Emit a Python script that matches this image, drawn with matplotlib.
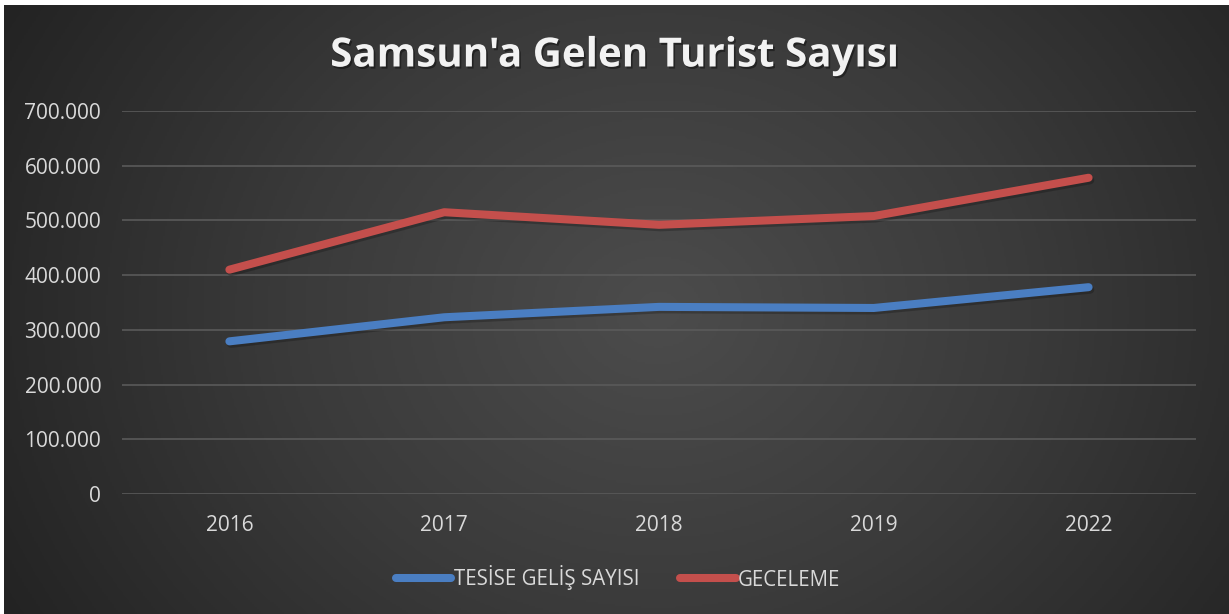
import numpy as np
import matplotlib
matplotlib.use("Agg")
import matplotlib.pyplot as plt
from matplotlib.ticker import FuncFormatter, MultipleLocator
import matplotlib.patheffects as pe
from matplotlib.colors import LinearSegmentedColormap

years = ["2016", "2017", "2018", "2019", "2022"]
tesise = [279000, 323000, 342000, 340000, 378000]
geceleme = [410000, 515000, 492000, 508000, 578000]
title = "Samsun'a Gelen Turist Sayısı"
series_names = ["TESİSE GELİŞ SAYISI", "GECELEME"]

W, H = 1229, 614
fig = plt.figure(figsize=(W / 100, H / 100), dpi=100, facecolor="white")

# background gradient
bg = fig.add_axes([4 / W, 0, 1 - 4 / W, 1 - 5 / H], zorder=-10)
yy, xx = np.mgrid[0:300, 0:600]
cx, cy = 320, 150
d = np.sqrt(((xx - cx) / 600) ** 2 + ((yy - cy) / 300) ** 2 * 0.35)
d = d / d.max()
cmap = LinearSegmentedColormap.from_list("bg", ["#4c4c4c", "#3a3a3a", "#232323"])
bg.imshow(d, cmap=cmap, aspect="auto", extent=[0, 1, 0, 1], vmin=0, vmax=1)
bg.set_axis_off()

ax = fig.add_axes([122 / W, 1 - 494 / H, (1196 - 122) / W, (494 - 111) / H])
ax.patch.set_alpha(0)
x = np.arange(len(years))
shadow = [pe.SimpleLineShadow(offset=(1.2, -1.8), shadow_color="black", alpha=0.22), pe.Normal()]
l1, = ax.plot(x, tesise, color="#4a7ec2", lw=5.8, solid_capstyle="round",
              solid_joinstyle="round", path_effects=shadow, label=series_names[0])
l2, = ax.plot(x, geceleme, color="#c44f4c", lw=5.8, solid_capstyle="round",
              solid_joinstyle="round", path_effects=shadow, label=series_names[1])

ax.set_xlim(-0.5, len(years) - 0.5)
ax.set_ylim(0, 700000)
ax.yaxis.set_major_locator(MultipleLocator(100000))
ax.yaxis.set_major_formatter(FuncFormatter(lambda v, p: f"{int(v):,}".replace(",", ".")))
ax.set_xticks(x)
ax.set_xticklabels(years)
ax.grid(axis="y", color="#5a5a5a", lw=1.2)
ax.set_axisbelow(True)
for s in ax.spines.values():
    s.set_visible(False)
ax.tick_params(axis="both", length=0, colors="#d9d9d9", labelsize=15)
ax.tick_params(axis="y", pad=15)
ax.tick_params(axis="x", pad=15)
for lab in ax.get_xticklabels() + ax.get_yticklabels():
    lab.set_fontfamily("Open Sans")

fig.text(614 / W, 1 - 56 / H, title, ha="center", va="center", color="#f2f2f2",
         fontsize=29, fontweight="bold", fontfamily="Open Sans",
         path_effects=[pe.withSimplePatchShadow(offset=(1.2, -1.5), shadow_rgbFace="black", alpha=0.4)])

leg = fig.legend(handles=[l1, l2], loc="center", bbox_to_anchor=(618 / W, 1 - 578 / H),
                 ncol=2, frameon=False, handlelength=2.7, handletextpad=0.12,
                 columnspacing=2.0, prop={"family": "Open Sans", "size": 14.8})
for t in leg.get_texts():
    t.set_color("#d9d9d9")
for h in leg.legend_handles:
    h.set_path_effects([])

fig.savefig("out.png", dpi=100, facecolor="white")
